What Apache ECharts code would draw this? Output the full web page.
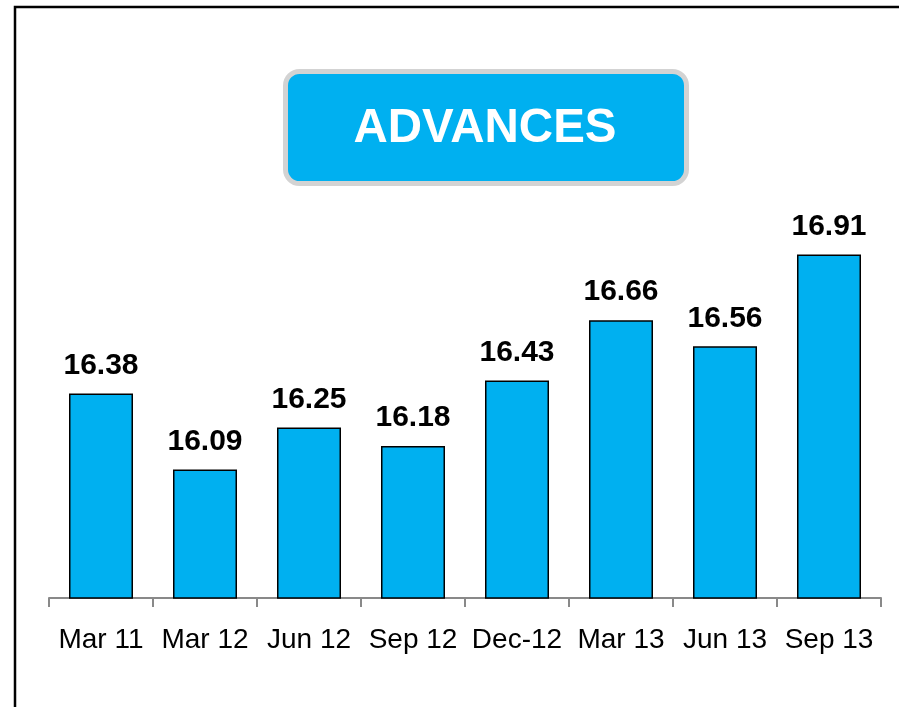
<!DOCTYPE html>
<html>
<head>
<meta charset="utf-8">
<script src="https://cdn.jsdelivr.net/npm/echarts@6/dist/echarts.min.js"></script>
<style>
html,body{margin:0;padding:0;background:#fff;}
#chart{width:899px;height:707px;}
</style>
</head>
<body>
<div id="chart"></div>
<script>
var categories = ['Mar 11', 'Mar 12', 'Jun 12', 'Sep 12', 'Dec-12', 'Mar 13', 'Jun 13', 'Sep 13'];
var values = [16.38, 16.09, 16.25, 16.18, 16.43, 16.66, 16.56, 16.91];
var titleText = 'ADVANCES';

var chart = echarts.init(document.getElementById('chart'));
chart.setOption({
  animation: false,
  backgroundColor: '#ffffff',
  grid: { left: 49, right: 18, top: 231, bottom: 109, containLabel: false },
  graphic: [
    {
      type: 'rect', z: 0,
      shape: { x: 15, y: 7, width: 1000, height: 1000 },
      style: { fill: 'none', stroke: '#000', lineWidth: 2.5 }
    },
    {
      type: 'rect', z: 10,
      shape: { x: 285.5, y: 71.5, width: 401, height: 112, r: 14 },
      style: { fill: '#00B0F0', stroke: '#D3D3D3', lineWidth: 5 }
    },
    {
      type: 'text', z: 11,
      x: 485, y: 129,
      style: {
        text: titleText, fill: '#ffffff',
        font: 'bold 47.5px "Liberation Sans", Arial, sans-serif',
        align: 'center', verticalAlign: 'middle'
      }
    }
  ],
  xAxis: {
    type: 'category',
    data: categories,
    axisLine: { show: true, lineStyle: { color: '#898989', width: 2 } },
    axisTick: { show: true, length: 9, interval: 0, lineStyle: { color: '#898989', width: 2 } },
    axisLabel: {
      color: '#000', fontSize: 28, margin: 28, interval: 0,
      fontFamily: '"Liberation Sans", Arial, sans-serif'
    }
  },
  yAxis: {
    type: 'value', min: 15.6, max: 17.0,
    show: false,
    splitLine: { show: false }
  },
  series: [{
    type: 'bar',
    data: values,
    barWidth: 64,
    itemStyle: { color: '#00B0F0', borderColor: '#000', borderWidth: 1.5 },
    label: {
      show: true, position: 'top', distance: 13,
      color: '#000', fontSize: 30, fontWeight: 'bold',
      fontFamily: '"Liberation Sans", Arial, sans-serif',
      formatter: function (p) { return p.value.toFixed(2); }
    }
  }]
});
</script>
</body>
</html>
